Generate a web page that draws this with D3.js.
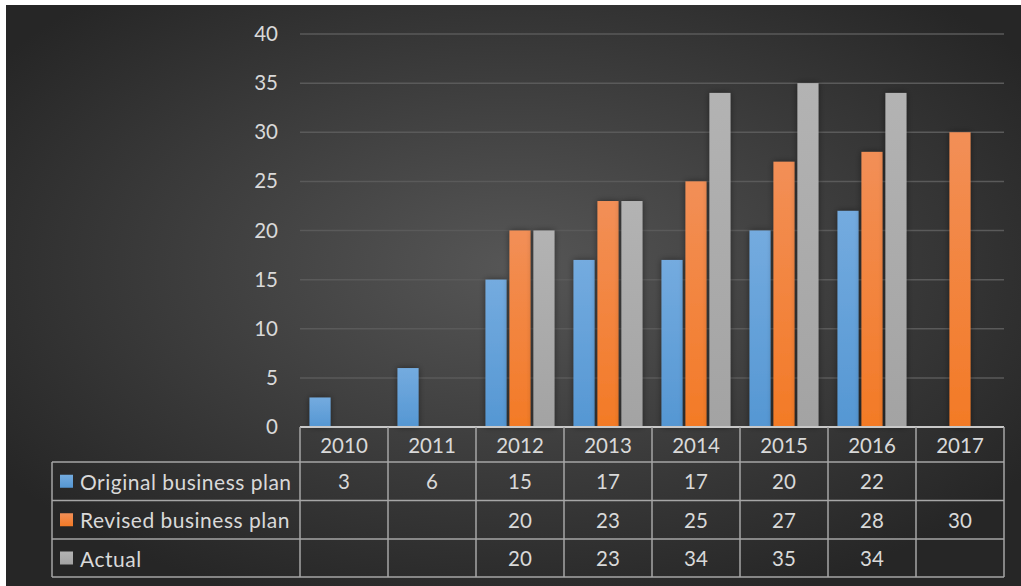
<!DOCTYPE html>
<html>
<head>
<meta charset="utf-8">
<script src="https://cdn.jsdelivr.net/npm/d3@7"></script>
<style>
  body { margin: 0; background: #fff; }
  svg { display: block; }
  text { font-family: Lato, "Open Sans", sans-serif; fill: #d9d9d9; }
</style>
</head>
<body>
<svg id="chart"></svg>
<script>
// DATA
const years = ["2010", "2011", "2012", "2013", "2014", "2015", "2016", "2017"];
const seriesNames = ["Original business plan", "Revised business plan", "Actual"];
const originalPlan = [3, 6, 15, 17, 17, 20, 22, null];
const revisedPlan = [null, null, 20, 23, 25, 27, 28, 30];
const actual = [null, null, 20, 23, 34, 35, 34, null];
const yTicks = [0, 5, 10, 15, 20, 25, 30, 35, 40];

const seriesValues = [originalPlan, revisedPlan, actual];
const seriesColors = [
  ["#74abdf", "#5597d3"],
  ["#f28f57", "#f37a26"],
  ["#b3b3b3", "#a3a3a3"]
];

const width = 1021;
const height = 586;
const fontSize = "20.5px";

const svg = d3.select("#chart")
  .attr("width", width)
  .attr("height", height);

const defs = svg.append("defs");

// background gradient
const bg = defs.append("radialGradient")
  .attr("id", "bgGrad")
  .attr("cx", "50%").attr("cy", "45%").attr("r", "62%");
bg.append("stop").attr("offset", "0%").attr("stop-color", "#565656");
bg.append("stop").attr("offset", "100%").attr("stop-color", "#262626");

seriesColors.forEach(function(c, i){
  const g = defs.append("linearGradient")
    .attr("id", "barGrad" + i)
    .attr("x1", 0).attr("y1", 0).attr("x2", 0).attr("y2", 1);
  g.append("stop").attr("offset", "0%").attr("stop-color", c[0]);
  g.append("stop").attr("offset", "100%").attr("stop-color", c[1]);
});

const shadow = defs.append("filter")
  .attr("id", "barShadow")
  .attr("x", "-50%").attr("y", "-20%").attr("width", "200%").attr("height", "140%");
shadow.append("feDropShadow")
  .attr("dx", 0).attr("dy", 0)
  .attr("stdDeviation", 3)
  .attr("flood-color", "#000")
  .attr("flood-opacity", 0.45);

svg.append("rect")
  .attr("x", 6).attr("y", 5)
  .attr("width", width - 6).attr("height", height - 5)
  .attr("fill", "url(#bgGrad)");

// SCALES
const x0 = d3.scaleBand()
  .domain(years)
  .range([300, 1004]);

const x1 = d3.scaleBand()
  .domain(d3.range(seriesNames.length))
  .range([9.5, x0.bandwidth() - 9.5])
  .paddingInner(0.12);

const y = d3.scaleLinear()
  .domain([0, 40])
  .range([427, 34]);

// gridlines
svg.append("g")
  .selectAll("line")
  .data(yTicks.filter(d => d > 0))
  .join("line")
  .attr("x1", 300).attr("x2", 1004)
  .attr("y1", d => y(d)).attr("y2", d => y(d))
  .attr("stroke", "#5a5a5a")
  .attr("stroke-width", 1.5);

// y axis labels
const yAxis = d3.axisLeft(y).tickValues(yTicks).tickSize(0).tickPadding(0);
svg.append("g")
  .attr("transform", "translate(278,0)")
  .call(yAxis)
  .call(g => g.select(".domain").remove())
  .selectAll("text")
  .attr("fill", "#d9d9d9")
  .style("font-size", fontSize)
  .style("font-family", "Lato, 'Open Sans', sans-serif");

// bars
const bars = [];
years.forEach(function(yr, i){
  seriesValues.forEach(function(vals, s){
    if (vals[i] != null) bars.push({year: yr, series: s, value: vals[i]});
  });
});

svg.append("g")
  .selectAll("rect")
  .data(bars)
  .join("rect")
  .attr("x", d => x0(d.year) + x1(d.series))
  .attr("width", x1.bandwidth())
  .attr("y", d => y(d.value))
  .attr("height", d => y(0) - y(d.value))
  .attr("fill", d => "url(#barGrad" + d.series + ")")
  .attr("filter", "url(#barShadow)");

// DATA TABLE
const rowTops = [427, 462, 500.5, 539, 577];
const tableLeft = 52;
const lineColor = "#a6a6a6";
const table = svg.append("g")
  .attr("stroke", lineColor)
  .attr("stroke-width", 1.5)
  .attr("fill", "none");

// horizontal lines
table.append("line")
  .attr("x1", 300).attr("x2", 1004)
  .attr("y1", rowTops[0]).attr("y2", rowTops[0])
  .attr("stroke", "#c8c8c8").attr("stroke-width", 2);
rowTops.slice(1).forEach(function(ry){
  table.append("line")
    .attr("x1", tableLeft).attr("x2", 1004)
    .attr("y1", ry).attr("y2", ry);
});
// vertical lines
table.append("line")
  .attr("x1", tableLeft).attr("x2", tableLeft)
  .attr("y1", rowTops[1]).attr("y2", rowTops[4]);
years.forEach(function(yr){
  table.append("line")
    .attr("x1", x0(yr)).attr("x2", x0(yr))
    .attr("y1", rowTops[0]).attr("y2", rowTops[4]);
});
table.append("line")
  .attr("x1", 1004).attr("x2", 1004)
  .attr("y1", rowTops[0]).attr("y2", rowTops[4]);

// header
svg.append("g")
  .selectAll("text")
  .data(years)
  .join("text")
  .attr("x", d => x0(d) + x0.bandwidth() / 2)
  .attr("y", (rowTops[0] + rowTops[1]) / 2)
  .attr("text-anchor", "middle")
  .attr("dominant-baseline", "central")
  .style("font-size", fontSize)
  .text(d => d);

// rows
seriesNames.forEach(function(name, s){
  const cy = (rowTops[s + 1] + rowTops[s + 2]) / 2;
  const row = svg.append("g");
  row.append("rect")
    .attr("x", 60).attr("y", cy - 6.5)
    .attr("width", 13).attr("height", 13)
    .attr("fill", "url(#barGrad" + s + ")");
  row.append("text")
    .attr("x", 80).attr("y", cy)
    .attr("dominant-baseline", "central")
    .style("font-size", "21px")
    .style("letter-spacing", "0.5px")
    .text(name);
  row.selectAll("text.val")
    .data(seriesValues[s].map((v, i) => ({v: v, year: years[i]})).filter(d => d.v != null))
    .join("text")
    .attr("class", "val")
    .attr("x", d => x0(d.year) + x0.bandwidth() / 2)
    .attr("y", cy)
    .attr("text-anchor", "middle")
    .attr("dominant-baseline", "central")
    .style("font-size", fontSize)
    .text(d => d.v);
});
</script>
</body>
</html>
